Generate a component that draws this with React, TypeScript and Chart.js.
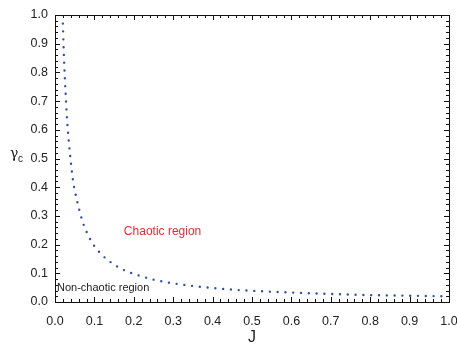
import React, { useEffect, useRef } from "react";
import { Chart, registerables } from "chart.js";

Chart.register(...registerables);

const jValues = [0.02, 0.022, 0.025, 0.028, 0.03, 0.035, 0.04, 0.045, 0.05, 0.06, 0.07, 0.08, 0.09, 0.1, 0.12, 0.14, 0.16, 0.18, 0.2, 0.25, 0.3, 0.35, 0.4, 0.45, 0.5, 0.6, 0.7, 0.8, 0.9, 1.0];
const gammaC = [0.97, 0.88, 0.78, 0.7, 0.65, 0.56, 0.49, 0.43, 0.39, 0.33, 0.28, 0.245, 0.217, 0.195, 0.163, 0.14, 0.122, 0.108, 0.098, 0.078, 0.065, 0.056, 0.049, 0.043, 0.039, 0.033, 0.028, 0.024, 0.022, 0.0195];

const xTitle = "J";
const yTitleMain = "γ";
const yTitleSub = "c";
const annotations = [
  { text: "Chaotic region", x: 0.273, y: 0.245, color: "#e0302e", size: 12, align: "center" as CanvasTextAlign },
  { text: "Non-chaotic region", x: 0.005, y: 0.05, color: "#222222", size: 11, align: "left" as CanvasTextAlign },
];

const FONT = "'Liberation Sans', Arial, sans-serif";

const framePlugin = {
  id: "frame",
  afterDraw(chart: any) {
    const { ctx, chartArea } = chart;
    const xs = chart.scales.x;
    const ys = chart.scales.y;
    const { left, right, top, bottom } = chartArea;
    ctx.save();
    ctx.strokeStyle = "#111";
    ctx.lineWidth = 1;
    ctx.strokeRect(Math.round(left) + 0.5, Math.round(top) + 0.5, Math.round(right - left), Math.round(bottom - top));
    ctx.beginPath();
    for (let i = 0; i <= 50; i++) {
      const v = i * 0.02;
      const len = i % 5 === 0 ? 5 : 3;
      const px = Math.round(xs.getPixelForValue(v)) + 0.5;
      ctx.moveTo(px, bottom);
      ctx.lineTo(px, bottom - len);
      ctx.moveTo(px, top);
      ctx.lineTo(px, top + len);
      const py = Math.round(ys.getPixelForValue(v)) + 0.5;
      ctx.moveTo(left, py);
      ctx.lineTo(left + len, py);
      ctx.moveTo(right, py);
      ctx.lineTo(right - len, py);
    }
    ctx.stroke();

    ctx.textBaseline = "middle";
    for (const a of annotations) {
      ctx.font = `${a.size}px ${FONT}`;
      ctx.fillStyle = a.color;
      ctx.textAlign = a.align;
      ctx.fillText(a.text, xs.getPixelForValue(a.x), ys.getPixelForValue(a.y));
    }

    ctx.fillStyle = "#222";
    ctx.textAlign = "center";
    ctx.textBaseline = "alphabetic";
    ctx.font = `16px ${FONT}`;
    ctx.fillText(xTitle, (left + right) / 2, 342);

    ctx.textAlign = "left";
    ctx.font = `14px 'DejaVu Serif', serif`;
    ctx.fillText(yTitleMain, 10, 158);
    ctx.font = `10px ${FONT}`;
    ctx.fillText(yTitleSub, 18, 162);
    ctx.restore();
  },
};

export default function App() {
  const ref = useRef<HTMLCanvasElement | null>(null);
  useEffect(() => {
    if (!ref.current) return;
    const chart = new Chart(ref.current, {
      type: "line",
      data: {
        datasets: [
          {
            data: jValues.map((x, i) => ({ x, y: gammaC[i] })),
            borderColor: "#3050a8",
            borderWidth: 2.4,
            borderDash: [0, 7.8],
            borderCapStyle: "round",
            pointRadius: 0,
            cubicInterpolationMode: "monotone",
            fill: false,
          },
        ],
      },
      options: {
        animation: false,
        responsive: false,
        layout: { padding: { top: 15, right: 8, left: 0, bottom: 0 } },
        plugins: { legend: { display: false }, tooltip: { enabled: false } },
        scales: {
          x: {
            type: "linear",
            min: 0,
            max: 1,
            grid: { display: false, drawTicks: false },
            border: { display: false },
            ticks: {
              stepSize: 0.1,
              padding: 12,
              color: "#222",
              font: { size: 12.5, family: FONT },
              maxRotation: 0,
              callback: (v: any) => Number(v).toFixed(1),
            },
            afterFit: (s: any) => {
              s.height = 48;
              s.paddingLeft = 0;
              s.paddingRight = 0;
            },
          },
          y: {
            type: "linear",
            min: 0,
            max: 1,
            grid: { display: false, drawTicks: false },
            border: { display: false },
            ticks: {
              stepSize: 0.1,
              padding: 7,
              color: "#222",
              font: { size: 12.5, family: FONT },
              callback: (v: any) => Number(v).toFixed(1),
            },
            afterFit: (s: any) => {
              s.width = 55;
              s.paddingTop = 0;
              s.paddingBottom = 0;
            },
          },
        },
      },
      plugins: [framePlugin],
    });
    return () => chart.destroy();
  }, []);
  return (
    <div style={{ position: "fixed", left: 0, top: 0, width: 457, height: 350, background: "#fff" }}>
      <canvas ref={ref} width={457} height={350} />
    </div>
  );
}
